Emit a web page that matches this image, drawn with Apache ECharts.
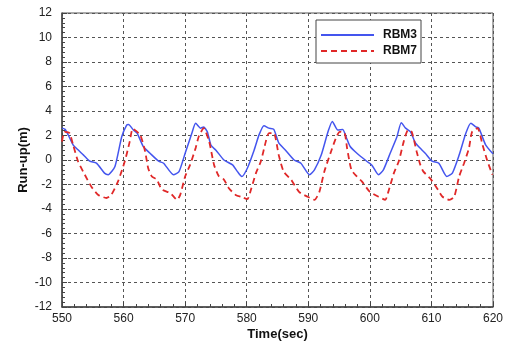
<!DOCTYPE html>
<html><head><meta charset="utf-8">
<script src="https://cdn.jsdelivr.net/npm/echarts@6/dist/echarts.min.js"></script>
<style>html,body{margin:0;padding:0;background:#fff}#c{width:508px;height:342px}</style>
</head><body><div id="c"></div>
<script>
var xTicks = [550,560,570,580,590,600,610,620];
var yTicks = [-12,-10,-8,-6,-4,-2,0,2,4,6,8,10,12];
var rbm3Time = [550,550.5,551,551.8,552.6,553.5,554.5,555.6,556.9,557.5,558.6,559.7,560.5,560.8,561.6,562.2,563.2,564.3,565.7,566.5,568.1,569,570,571.1,571.7,572.5,573,573.6,574.2,575,576.3,577.7,578.5,579.2,580.1,581.2,582,582.8,583.6,584.4,585.2,586.3,587.7,588.8,590.2,591,592.1,593.2,593.9,594.8,595.6,596.2,596.8,597.9,599.5,600.3,601.4,602.2,603.3,604.4,605.1,605.8,606.6,607.4,608.5,609,610.1,611.2,612.5,613.4,614.5,615.6,616.4,617.2,617.7,618.8,620];
var rbm3Value = [2.6,2.5,2.05,1.24,0.83,0.4,-0.1,-0.26,-1.07,-1.2,-0.53,1.9,2.85,2.9,2.45,2.2,1.1,0.55,-0.1,-0.26,-1.2,-0.95,0.55,2.2,3.0,2.6,2.7,2.3,1.2,0.8,0.0,-0.4,-0.95,-1.35,-0.67,0.8,2.05,2.8,2.6,2.5,1.4,0.8,0.0,-0.26,-1.2,-0.8,0.4,2.3,3.15,2.45,2.5,1.8,1.1,0.55,-0.1,-0.4,-1.2,-0.8,0.55,1.9,3.05,2.6,2.3,1.4,0.8,0.55,-0.1,-0.26,-1.35,-1.07,0.4,2.2,3.0,2.7,2.6,1.24,0.5];
var rbm7Time = [550,550.4,551.2,551.8,552.6,553.7,554.8,555.9,557.2,558,559.1,560.2,561,561.5,562.7,563.5,564,564.6,565.4,566.2,567.6,568.7,569.2,570,570.8,571.7,572.2,573,573.9,574.7,575.5,576.3,577.1,578.2,579.3,580.1,580.7,581.5,582.3,583.1,583.6,584.4,585.2,586,587.2,588.5,589.9,591,591.8,592.6,593.7,594.5,595.1,595.9,596.3,597,597.9,598.7,600,601.4,602.5,603,603.9,604.7,605.5,606.2,606.8,607.6,608.2,608.7,609.8,610.9,611.8,612.9,613.7,614.5,615.3,616.1,616.6,617.5,618.3,619.1,619.9];
var rbm7Value = [1.5,2.3,2.2,1.24,-0.1,-1.2,-2.2,-2.85,-3.1,-2.85,-1.75,-0.1,1.5,2.55,2.05,0.7,-0.67,-1.35,-1.6,-2.4,-2.7,-3.25,-2.85,-1.35,-0.4,0.97,1.9,2.6,1.5,-0.4,-1.35,-1.6,-2.3,-2.85,-3.05,-3.2,-2.4,-1.07,-0.1,1.5,2.2,2.2,0.4,-0.95,-1.6,-2.6,-3.0,-3.25,-2.6,-0.95,0.7,1.8,2.3,2.2,0.97,-0.8,-1.35,-1.75,-2.6,-3.0,-3.25,-2.6,-1.07,-0.1,1.5,2.45,2.3,0.7,-0.4,-0.95,-1.5,-2.3,-3.0,-3.25,-3.0,-1.35,-0.26,0.97,2.3,2.6,1.24,-0.1,-1.2];

function pairs(t, v){ return t.map(function(x,i){ return [x, v[i]]; }); }
var font = 'Liberation Sans, Arial, sans-serif';
var chart = echarts.init(document.getElementById('c'), null, {renderer:'canvas'});
chart.setOption({
  animation: false,
  backgroundColor: '#fff',
  grid: {left: 62, right: 15, top: 13, bottom: 35, show: true, borderColor: '#555', borderWidth: 1,
         containLabel: false, outerBoundsMode: 'none'},
  legend: {
    orient: 'vertical', left: 316, top: 20,
    padding: [9, 4, 6, 4], itemGap: 4, itemWidth: 53, itemHeight: 10,
    borderColor: '#444', borderWidth: 1, backgroundColor: '#fff',
    itemStyle: {opacity: 0},
    textStyle: {fontFamily: font, fontSize: 12, fontWeight: 'bold', color: '#111', padding: [0,0,0,4]},
    data: ['RBM3', 'RBM7']
  },
  xAxis: {
    type: 'value', min: xTicks[0], max: xTicks[xTicks.length-1], interval: 10,
    name: 'Time(sec)', nameLocation: 'middle', nameGap: 21, nameMoveOverlap: false,
    nameTextStyle: {fontFamily: font, fontSize: 13, fontWeight: 'bold', color: '#111'},
    axisLine: {show: true, onZero: false, lineStyle: {color: '#444', width: 1.5}},
    axisTick: {show: true, inside: true, length: 5, lineStyle: {color: '#444'}},
    minorTick: {show: true, splitNumber: 5, length: 3, lineStyle: {color: '#444'}},
    axisLabel: {fontFamily: font, fontSize: 12, color: '#222', margin: 6},
    splitLine: {show: true, lineStyle: {color: '#555', type: [3, 3], width: 1}}
  },
  yAxis: {
    type: 'value', min: yTicks[0], max: yTicks[yTicks.length-1], interval: 2,
    name: 'Run-up(m)', nameLocation: 'middle', nameGap: 32, nameMoveOverlap: false,
    nameTextStyle: {fontFamily: font, fontSize: 13, fontWeight: 'bold', color: '#111'},
    axisLine: {show: true, onZero: false, lineStyle: {color: '#444', width: 1.5}},
    axisTick: {show: true, inside: true, length: 5, lineStyle: {color: '#444'}},
    minorTick: {show: true, splitNumber: 5, length: 3, lineStyle: {color: '#444'}},
    axisLabel: {fontFamily: font, fontSize: 12, color: '#222', margin: 10},
    splitLine: {show: true, lineStyle: {color: '#555', type: [3, 3], width: 1}}
  },
  series: [
    {name: 'RBM3', type: 'line', data: pairs(rbm3Time, rbm3Value), symbol: 'none', smooth: 0.2,
     lineStyle: {color: '#4455ee', width: 1.5}, itemStyle: {color: '#4455ee'}},
    {name: 'RBM7', type: 'line', data: pairs(rbm7Time, rbm7Value), symbol: 'none', smooth: 0.2,
     lineStyle: {color: '#e02828', width: 1.8, type: [6, 4]}, itemStyle: {color: '#e02828'}}
  ]
});
</script></body></html>
